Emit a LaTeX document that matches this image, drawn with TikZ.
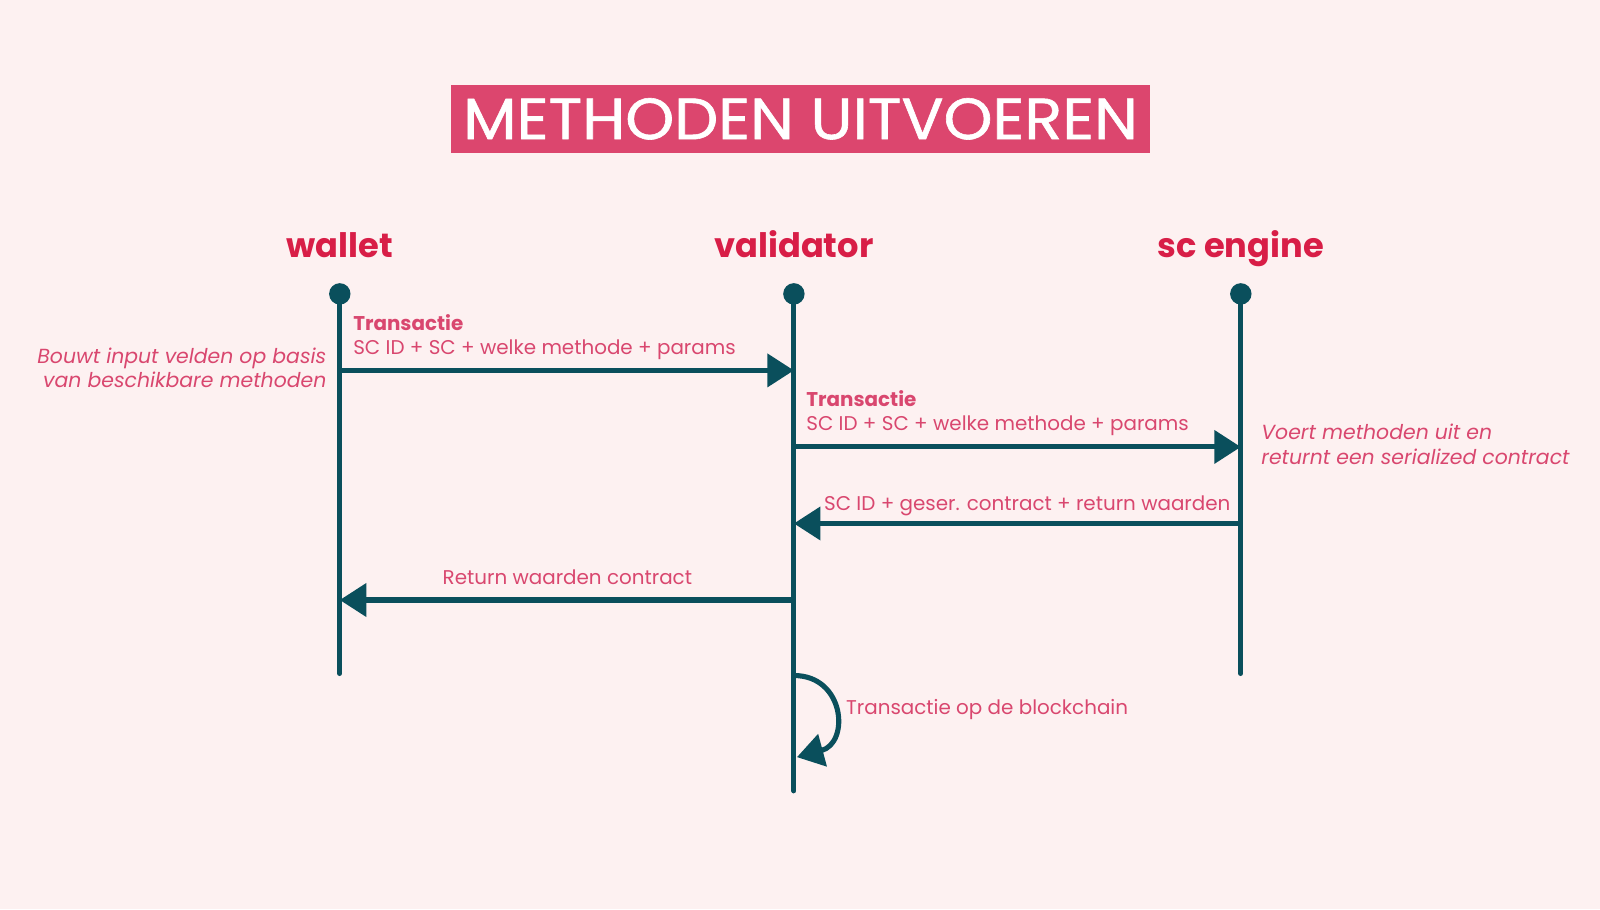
\documentclass[tikz,border=0pt]{standalone}
\usepackage{fontspec}
\usepackage{graphicx}
\setmainfont{Poppins}
\newfontfamily\titlefont[FakeBold=1]{Poppins}
\usetikzlibrary{arrows.meta}
\definecolor{bg}{HTML}{FDF1F1}
\definecolor{titlebox}{HTML}{DC466E}
\definecolor{pinktext}{HTML}{D9476F}
\definecolor{crimson}{HTML}{D81E47}
\definecolor{teal}{HTML}{0A4F5C}
\tikzset{
  lifeline/.style={draw=teal,line width=5pt,line cap=round},
  headdot/.style={circle,fill=teal,inner sep=0pt,minimum size=21pt},
  actor/.style={text=crimson,font=\fontsize{33}{40}\selectfont\bfseries,inner sep=0pt},
  msg/.style={draw=teal,line width=5pt,-{Triangle[length=26pt,width=32pt]}},
  lbl/.style={text=pinktext,font=\fontsize{19.5}{24}\selectfont,inner sep=0pt},
  lblb/.style={text=pinktext,font=\fontsize{19.5}{24}\selectfont\bfseries,inner sep=0pt},
  note/.style={text=pinktext,font=\fontsize{20}{24}\selectfont\itshape,inner sep=0pt},
}
\begin{document}
\begin{tikzpicture}[x=1pt,y=-1pt]
\fill[bg] (0,0) rectangle (1568,891);
\useasboundingbox (0,0) rectangle (1568,891);
% title
\node[fill=titlebox,text=white,minimum width=685pt,minimum height=67pt,inner sep=0pt,
      font=\fontsize{57}{60}\titlefont] (title) at (784.5,116.5) {\scalebox{1.07}[1]{METHODEN UITVOEREN}};
% actors
\node[actor,anchor=base] (wname) at (333,252) {wallet};
\node[actor,anchor=base] (vname) at (778,252) {validator};
\node[actor,anchor=base] (sname) at (1216,252) {sc engine};
\node[headdot] (wtop) at (333,288) {};
\node[headdot] (vtop) at (778,288) {};
\node[headdot] (stop) at (1216,288) {};
\coordinate (wbot) at (333,660);
\coordinate (vbot) at (778,775);
\coordinate (sbot) at (1216,660);
\draw[lifeline] (wtop.center) -- (wbot);
\draw[lifeline] (vtop.center) -- (vbot);
\draw[lifeline] (stop.center) -- (sbot);
% message end points
\coordinate (w1) at (333,363);
\coordinate (v1) at (778,363);
\coordinate (v2) at (778,438);
\coordinate (s2) at (1216,438);
\coordinate (s3) at (1216,513);
\coordinate (v3) at (778,513);
\coordinate (v4) at (778,588);
\coordinate (w4) at (333,588);
\coordinate (v5) at (778,662);
\coordinate (v6) at (781,742);
\draw[msg] (w1) -- (v1);
\draw[msg] (v2) -- (s2);
\draw[msg] (s3) -- (v3);
\draw[msg] (v4) -- (w4);
\draw[msg] (v5) .. controls (828,662) and (833,728) .. (v6);
% labels
\node[lblb,anchor=base west] (t1) at (346,324) {Transactie};
\node[lbl,anchor=base west] (m1) at (346,347) {SC ID + SC + welke methode + params};
\node[lblb,anchor=base west] (t2) at (790,398) {Transactie};
\node[lbl,anchor=base west] (m2) at (790,422) {SC ID + SC + welke methode + params};
\node[lbl,anchor=base east] (m3) at (1206,500) {SC ID + geser. contract + return waarden};
\node[lbl,anchor=base] (m4) at (556,573) {Return waarden contract};
\node[lbl,anchor=base west] (m5) at (829,700) {Transactie op de blockchain};
\node[note,anchor=base east] (n1a) at (320,356) {Bouwt input velden op basis};
\node[note,anchor=base east] (n1b) at (320,380) {van beschikbare methoden};
\node[note,anchor=base west] (n2a) at (1236,431) {Voert methoden uit en};
\node[note,anchor=base west] (n2b) at (1236,455) {returnt een serialized contract};
\end{tikzpicture}
\end{document}
